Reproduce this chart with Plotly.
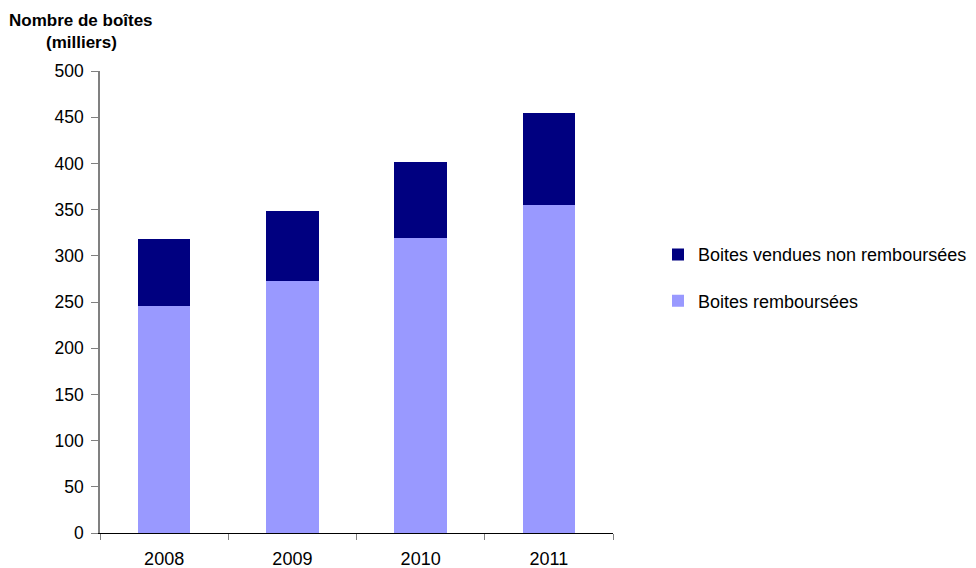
import plotly.graph_objects as go

years = ["2008", "2009", "2010", "2011"]
rembourses = [246, 273, 319, 355]
non_rembourses = [72, 75, 83, 100]
y_ticks = [0, 50, 100, 150, 200, 250, 300, 350, 400, 450, 500]

W, H = 976, 568
L, R, T, B = 92, 371, 62.5, 42.7
pw, ph = W - L - R, H - T - B

def px(x):
    return (x - L) / pw

def py(y):
    return (H - B - y) / ph

fig = go.Figure()
fig.add_trace(go.Bar(x=years, y=rembourses, name="Boites remboursées",
                     marker=dict(color="#9999FF", line=dict(width=0)),
                     legendgroup="b", legendrank=2))
fig.add_trace(go.Bar(x=years, y=non_rembourses, name="Boites vendues non remboursées",
                     marker=dict(color="#000080", line=dict(width=0)),
                     legendgroup="a", legendrank=1))

font = "Liberation Sans, Arial, sans-serif"
fig.update_layout(
    width=W, height=H,
    margin=dict(l=L, r=R, t=T, b=B, pad=0, autoexpand=False),
    barmode="stack", bargap=0.59,
    plot_bgcolor="white", paper_bgcolor="white",
    font=dict(family=font, size=17, color="black"),
    showlegend=True,
    legend=dict(traceorder="grouped", tracegroupgap=20,
                x=px(650), y=py(228), xanchor="left", yanchor="top",
                font=dict(size=18), itemwidth=30, bgcolor="rgba(0,0,0,0)"),
    xaxis=dict(type="category", tickson="boundaries", ticks="outside", ticklen=6,
               tickcolor="#808080", showline=True, linecolor="#000000", linewidth=1,
               showgrid=False, tickfont=dict(size=18), ticklabelstandoff=9,
               automargin=False),
    yaxis=dict(range=[0, 500], tickvals=y_ticks, ticks="outside", ticklen=7,
               tickcolor="#808080", showline=True, linecolor="#808080", linewidth=1.5,
               showgrid=False, zeroline=False, tickfont=dict(size=17.5),
               ticklabelstandoff=4, automargin=False),
    annotations=[
        dict(text="<b>Nombre de boîtes</b>", x=px(73), y=py(12), xref="paper", yref="paper",
             xanchor="center", yanchor="middle", showarrow=False, font=dict(size=17)),
        dict(text="<b>(milliers)</b>", x=px(73), y=py(34), xref="paper", yref="paper",
             xanchor="center", yanchor="middle", showarrow=False, font=dict(size=17)),
    ],
)

fig.write_html("out.html")
